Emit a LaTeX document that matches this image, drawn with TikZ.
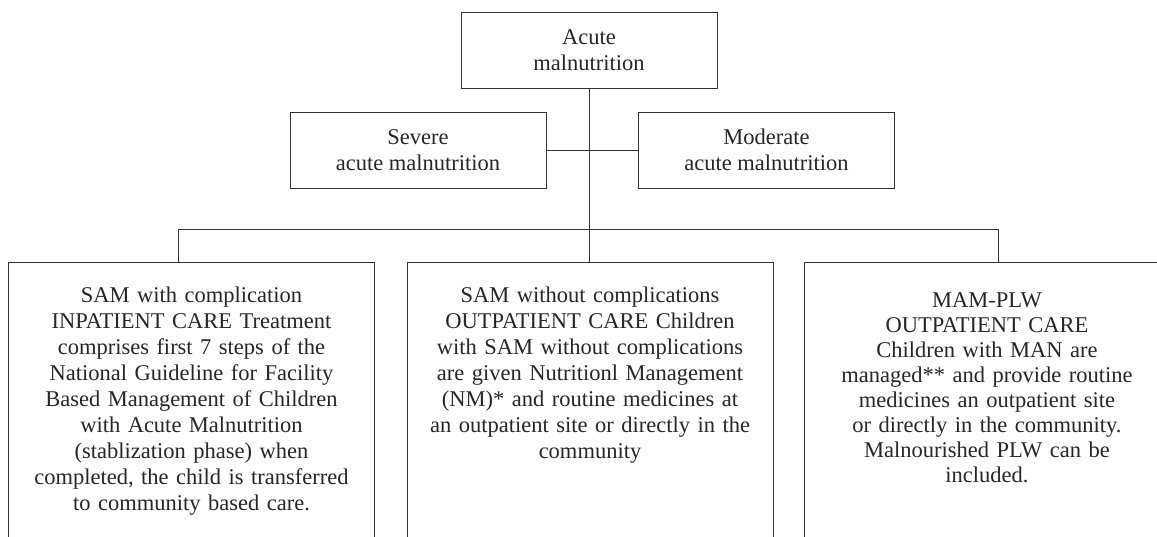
\documentclass[tikz,border=0pt]{standalone}
\usepackage{fontspec}
\setmainfont{Liberation Serif}
\usepackage{tikz}

\begin{document}
\begin{tikzpicture}[x=1pt, y=-1pt,
	box/.style={draw=black!80, line width=.8pt, text=black!85, align=center, inner sep=0pt,
		font=\fontsize{22.5}{26}\selectfont},
	headbox/.style={box, minimum width=256pt, minimum height=76pt},
	card/.style={box, anchor=north, text width=366pt, text depth=330pt, inner ysep=24.6pt},
	link/.style={draw=black!80, line width=.8pt}]
	\useasboundingbox (0,0) rectangle (1157,537);
	\clip (0,0) rectangle (1157,537);
	% top level
	\node[headbox] (acute) at (589,50) {Acute\\malnutrition};
	\node[headbox] (sam) at (418,150) {Severe\\acute malnutrition};
	\node[headbox] (mam) at (766.5,150) {Moderate\\acute malnutrition};
	% care boxes
	\node[card] (inpat) at (191.5,262) {SAM with complication\\
		INPATIENT CARE Treatment\\ comprises first 7 steps of the\\
		National Guideline for Facility\\ Based Management of Children\\
		with Acute Malnutrition\\ (stablization phase) when\\
		completed, the child is transferred\\ to community based care.};
	\node[card] (outpat) at (590,262) {SAM without complications\\
		OUTPATIENT CARE Children\\ with SAM without complications\\
		are given Nutritionl Management\\ (NM)* and routine medicines at\\
		an outpatient site or directly in the\\ community};
	\node[card, inner ysep=30pt, font=\fontsize{22.5}{25}\selectfont] (plw) at (987,262) {MAM-PLW\\
		OUTPATIENT CARE\\ Children with MAN are\\
		managed** and provide routine\\ medicines an outpatient site\\
		or directly in the community.\\ Malnourished PLW can be\\ included.};
	% connectors
	\coordinate (busL) at (178,229);
	\coordinate (busR) at (998,229);
	\draw[link] (sam.east) -- (mam.west);
	\draw[link] (acute.south) -- (acute.south |- outpat.north);
	\draw[link] (busL) -- (busR);
	\draw[link] (busL) -- (busL |- inpat.north);
	\draw[link] (busR) -- (busR |- plw.north);
\end{tikzpicture}
\end{document}
